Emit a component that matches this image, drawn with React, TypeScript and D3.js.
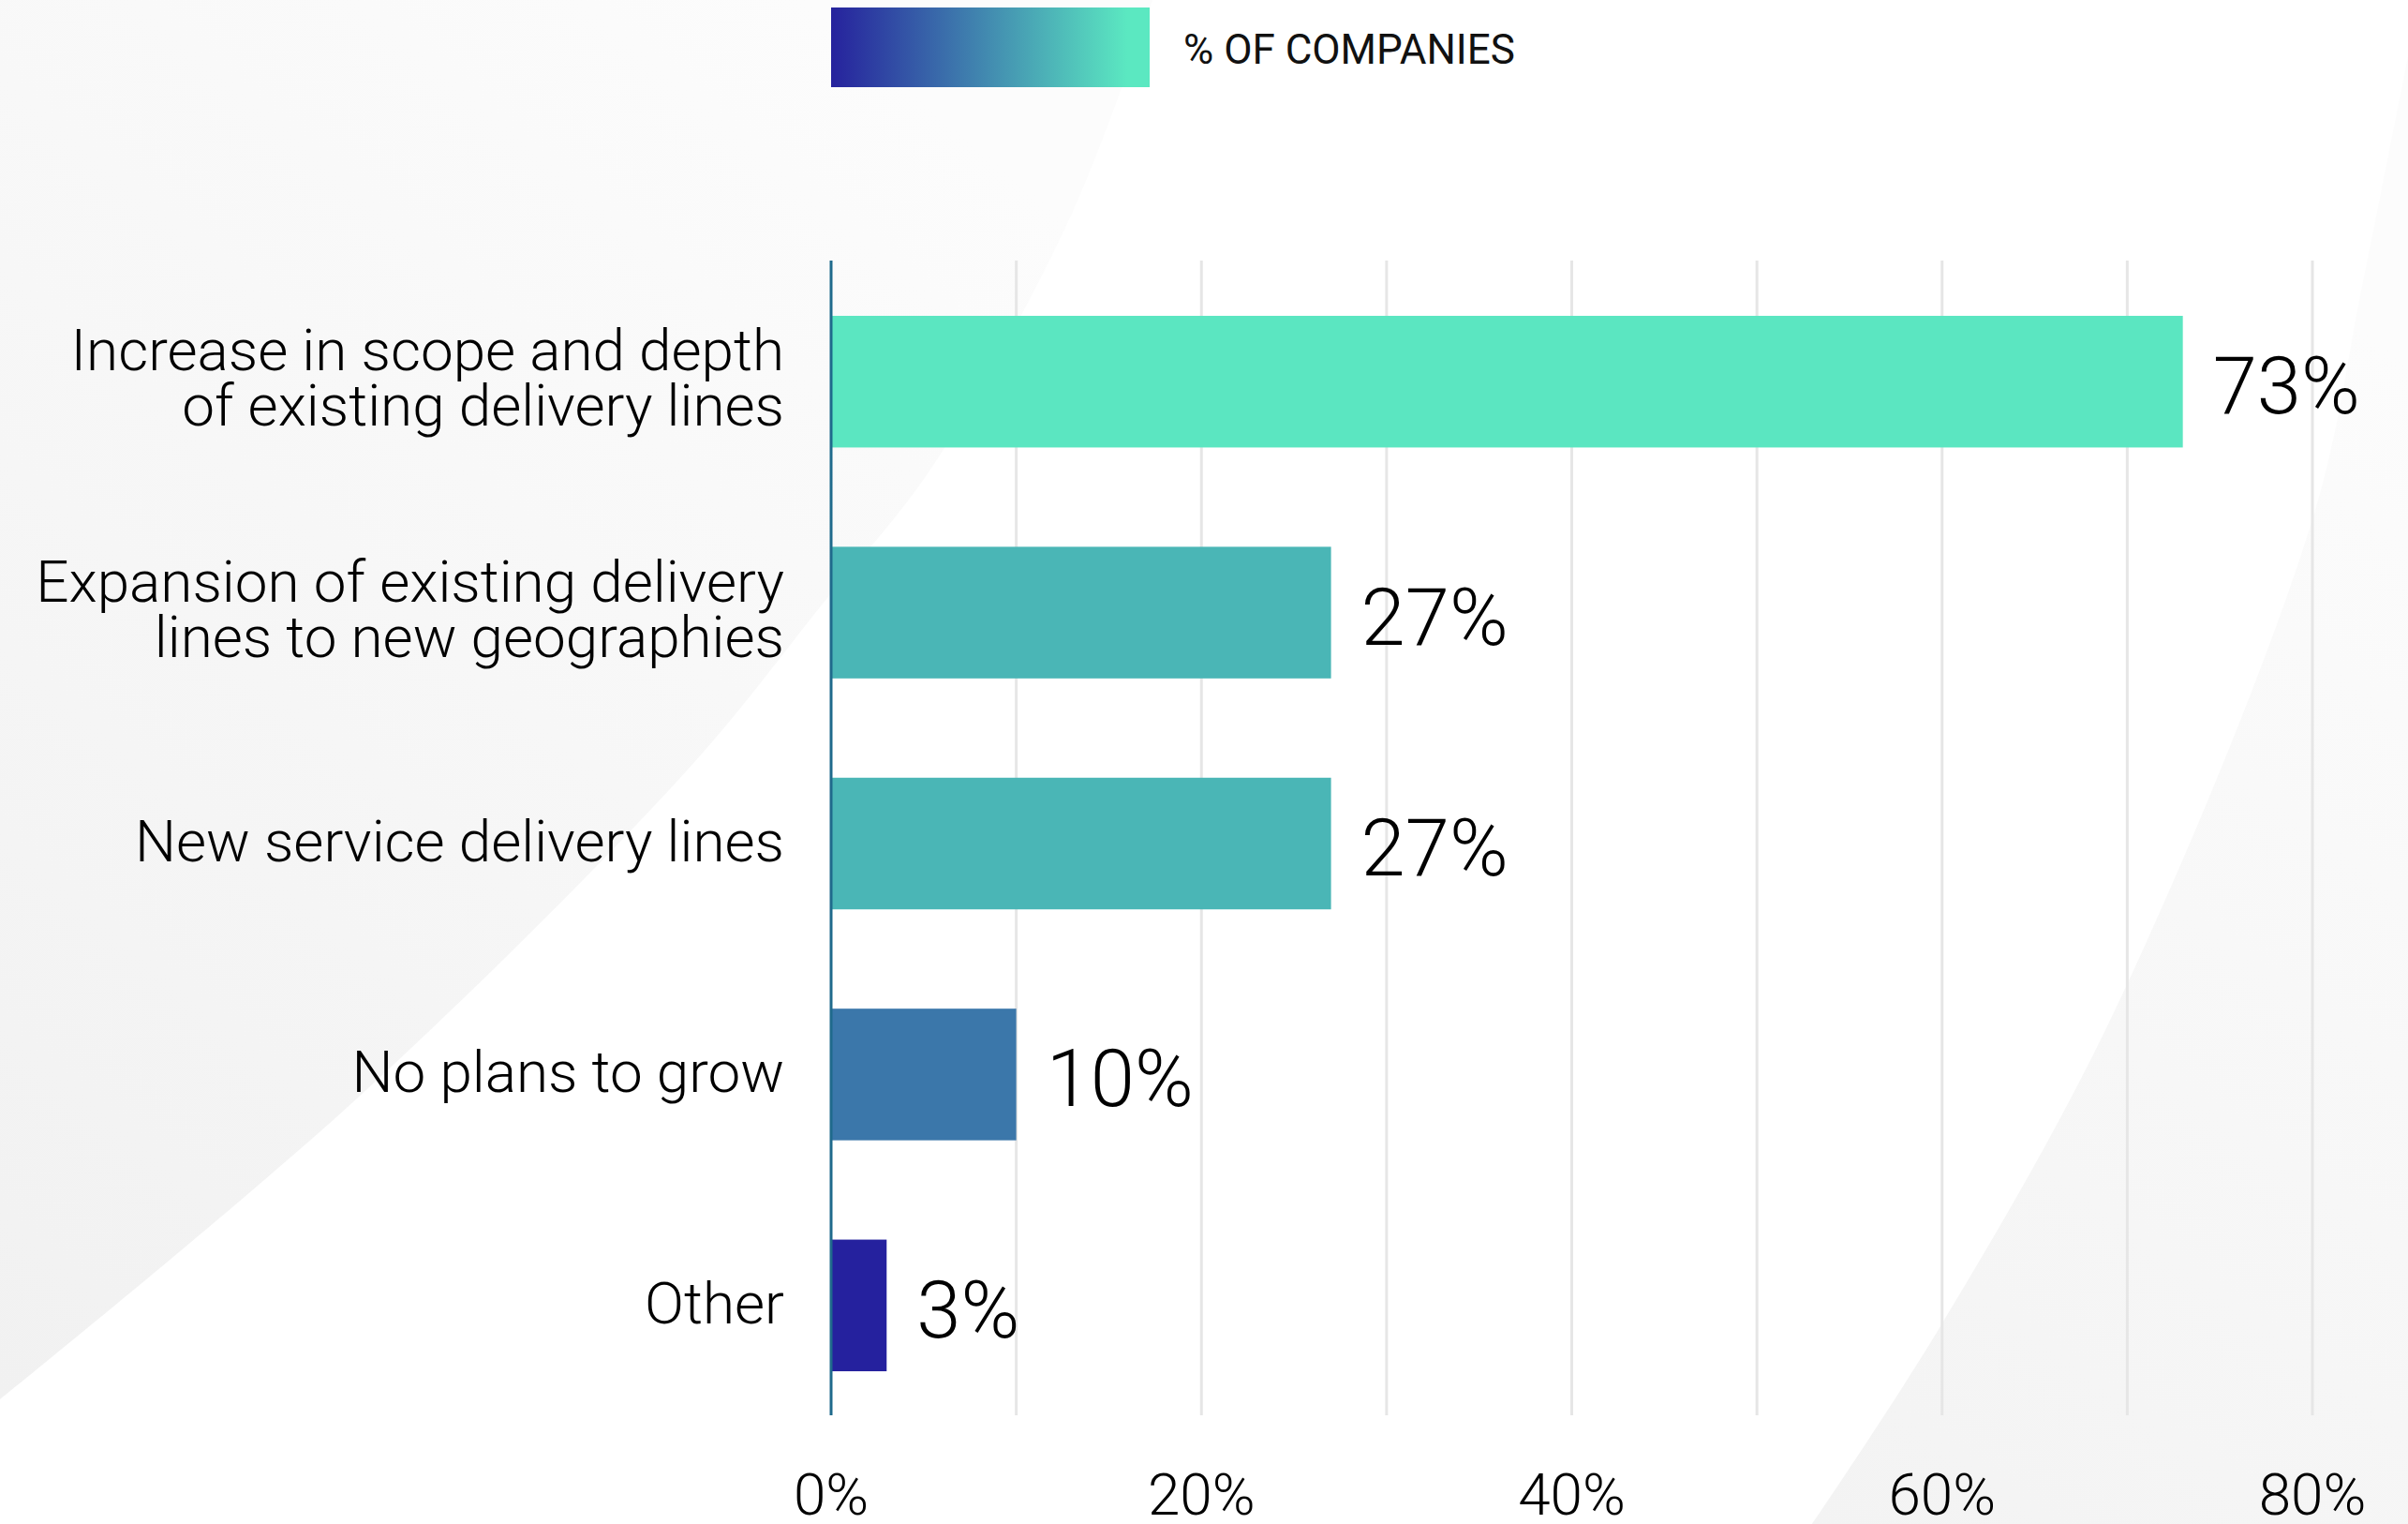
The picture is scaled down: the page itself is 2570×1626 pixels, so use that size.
import React from "react";
import * as d3 from "d3";

const categories = [
  "Increase in scope and depth of existing delivery lines",
  "Expansion of existing delivery lines to new geographies",
  "New service delivery lines",
  "No plans to grow",
  "Other",
];
const labelLines = [
  ["Increase in scope and depth", "of existing delivery lines"],
  ["Expansion of existing delivery", "lines to new geographies"],
  ["New service delivery lines"],
  ["No plans to grow"],
  ["Other"],
];
const values = [73, 27, 27, 10, 3];
const barColors = ["#5be6c1", "#4ab6b6", "#4ab6b6", "#3b77aa", "#25219e"];
const gridTicks = [0, 10, 20, 30, 40, 50, 60, 70, 80];
const labelTicks = [0, 20, 40, 60, 80];
const legendLabel = "% OF COMPANIES";

const W = 2570;
const H = 1626;
const FONT = "Roboto, 'Noto Sans', sans-serif";

export default function App() {
  const x = d3.scaleLinear().domain([0, 80]).range([887, 2468]);
  const y = d3
    .scaleBand<string>()
    .domain(categories)
    .range([284, 1516])
    .paddingInner(0.43)
    .paddingOuter(0.215);
  const bw = y.bandwidth();

  const curve = d3.line().curve(d3.curveCatmullRom.alpha(0.5));
  const leftPts: [number, number][] = [
    [0, 1493],
    [381, 1172],
    [735, 820],
    [879, 643],
    [995, 498],
    [1144, 228],
    [1230, 0],
  ];
  const leftPath = curve(leftPts) + " L0,0 Z";
  const rightPts: [number, number][] = [
    [1934, 1626],
    [2071, 1415],
    [2258, 1076],
    [2468, 554],
    [2522, 300],
    [2570, 60],
  ];
  const rightPath = curve(rightPts) + ` L${W},${H} Z`;

  return (
    <svg
      width={W}
      height={H}
      style={{ position: "absolute", left: 0, top: 0, background: "#ffffff" }}
    >
      <defs>
        <linearGradient id="legendGrad" x1="0" x2="1" y1="0" y2="0">
          <stop offset="0" stopColor="#26229d" />
          <stop offset="0.93" stopColor="#5be8c1" />
          <stop offset="1" stopColor="#5be8c1" />
        </linearGradient>
        <linearGradient id="bgLeft" x1="0" y1="1" x2="0.7" y2="0">
          <stop offset="0" stopColor="#f1f1f1" />
          <stop offset="1" stopColor="#fcfcfc" />
        </linearGradient>
        <linearGradient id="bgRight" x1="0" y1="1" x2="0.3" y2="0">
          <stop offset="0" stopColor="#f3f3f3" />
          <stop offset="1" stopColor="#fcfcfc" />
        </linearGradient>
      </defs>
      <rect x={0} y={0} width={W} height={H} fill="#ffffff" />
      <path d={leftPath} fill="url(#bgLeft)" />
      <path d={rightPath} fill="url(#bgRight)" />

      {/* legend */}
      <rect x={887} y={8} width={340} height={85} fill="url(#legendGrad)" />
      <text
        x={1263}
        y={68}
        fontFamily={FONT}
        fontSize={44}
        fontWeight={400}
        fill="#111"
      >
        {legendLabel}
      </text>

      {/* gridlines */}
      {gridTicks.slice(1).map((t) => (
        <line
          key={t}
          x1={x(t)}
          x2={x(t)}
          y1={278}
          y2={1510}
          stroke="#e6e6e6"
          strokeWidth={3}
        />
      ))}

      {/* bars */}
      {categories.map((c, i) => (
        <rect
          key={c}
          x={x(0)}
          y={y(c)}
          width={x(values[i]) - x(0)}
          height={bw}
          fill={barColors[i]}
        />
      ))}

      {/* axis line */}
      <line
        x1={x(0)}
        x2={x(0)}
        y1={278}
        y2={1510}
        stroke="#1f6a8c"
        strokeWidth={3}
      />

      {/* category labels */}
      {categories.map((c, i) => {
        const cy = (y(c) as number) + bw / 2;
        const lines = labelLines[i];
        return (
          <text
            key={c}
            x={x(0) - 50}
            textAnchor="end"
            fontFamily={FONT}
            fontSize={62}
            fontWeight={300}
            fill="#000"
          >
            {lines.map((l, j) => (
              <tspan
                key={j}
                x={x(0) - 50}
                y={lines.length === 1 ? cy + 19 : cy - 12 + j * 59}
              >
                {l}
              </tspan>
            ))}
          </text>
        );
      })}

      {/* value labels */}
      {categories.map((c, i) => (
        <text
          key={c}
          x={x(values[i]) + 32}
          y={(y(c) as number) + bw / 2 + 34}
          fontFamily={FONT}
          fontSize={85}
          fontWeight={300}
          fill="#000"
        >
          {values[i]}%
        </text>
      ))}

      {/* x tick labels */}
      {labelTicks.map((t) => (
        <text
          key={t}
          x={x(t)}
          y={1616}
          textAnchor="middle"
          fontFamily={FONT}
          fontSize={62}
          fontWeight={300}
          fill="#000"
        >
          {t}%
        </text>
      ))}
    </svg>
  );
}
